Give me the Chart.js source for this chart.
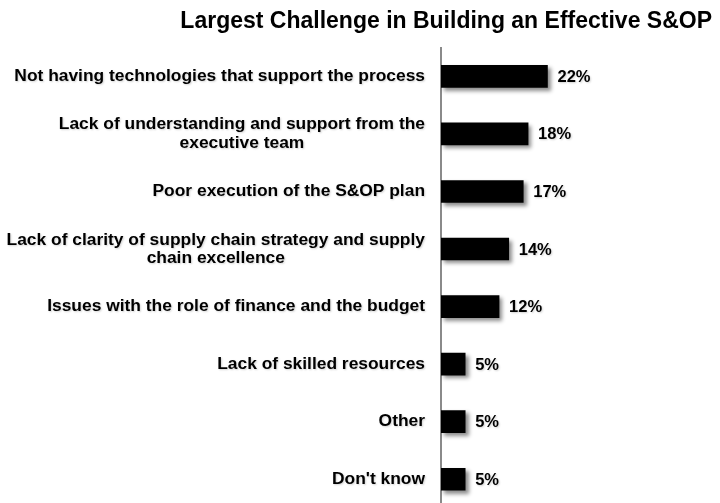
<!DOCTYPE html>
<html>
<head>
<meta charset="utf-8">
<script src="https://cdn.jsdelivr.net/npm/chart.js@4/dist/chart.umd.min.js"></script>
<style>
  html, body { margin: 0; padding: 0; background: #fff; overflow: hidden; }
  #wrap { width: 720px; height: 503px; overflow: hidden; }
  canvas { display: block; }
</style>
</head>
<body>
<div id="wrap"><canvas id="c" width="720" height="508"></canvas></div>
<script>
const chartTitle = 'Largest Challenge in Building an Effective S&OP';
const categories = [
  ['Not having technologies that support the process'],
  ['Lack of understanding and support from the', 'executive team'],
  ['Poor execution of the S&OP plan'],
  ['Lack of clarity of supply chain strategy and supply', 'chain excellence'],
  ['Issues with the role of finance and the budget'],
  ['Lack of skilled resources'],
  ['Other'],
  ["Don't know"]
];
const shares = [22, 18, 17, 14, 12, 5, 5, 5];

const FONT = '"Liberation Sans", Arial, sans-serif';

// soft drop shadow under the bars
const barShadow = {
  id: 'barShadow',
  beforeDatasetsDraw(chart) {
    const ctx = chart.ctx;
    ctx.save();
    ctx.shadowColor = 'rgba(0,0,0,0.45)';
    ctx.shadowBlur = 4;
    ctx.shadowOffsetX = 3;
    ctx.shadowOffsetY = 3;
  },
  afterDatasetsDraw(chart) {
    chart.ctx.restore();
  }
};

// category names to the left of the axis, blocks right-aligned, lines centred within a block
const categoryNames = {
  id: 'categoryNames',
  afterDraw(chart) {
    const ctx = chart.ctx;
    const y = chart.scales.y;
    const right = chart.chartArea.left - 16;
    const lineH = 18.5;
    ctx.save();
    ctx.font = 'bold 17.4px ' + FONT;
    ctx.fillStyle = '#000';
    ctx.textBaseline = 'middle';
    ctx.textAlign = 'center';
    ctx.shadowColor = 'rgba(0,0,0,0.18)';
    ctx.shadowBlur = 2;
    ctx.shadowOffsetX = 1;
    ctx.shadowOffsetY = 1;
    categories.forEach((lines, i) => {
      const cy = y.getPixelForValue(i);
      const w = Math.max(...lines.map(l => ctx.measureText(l).width));
      const cx = right - w / 2;
      const y0 = cy - (lines.length - 1) * lineH / 2;
      lines.forEach((l, k) => ctx.fillText(l, cx, y0 + k * lineH));
    });
    ctx.restore();
  }
};

// percentage after each bar
const valueTags = {
  id: 'valueTags',
  afterDatasetsDraw(chart) {
    const ctx = chart.ctx;
    const meta = chart.getDatasetMeta(0);
    ctx.save();
    ctx.font = 'bold 16.5px ' + FONT;
    ctx.fillStyle = '#000';
    ctx.textBaseline = 'middle';
    ctx.textAlign = 'left';
    ctx.shadowColor = 'rgba(0,0,0,0.18)';
    ctx.shadowBlur = 2;
    ctx.shadowOffsetX = 1;
    ctx.shadowOffsetY = 1;
    meta.data.forEach((bar, i) => {
      ctx.fillText(shares[i] + '%', bar.x + 10, bar.y + 1);
    });
    ctx.restore();
  }
};

new Chart(document.getElementById('c'), {
  type: 'bar',
  data: {
    labels: categories.map(l => l.join(' ')),
    datasets: [{
      data: shares,
      backgroundColor: '#000',
      borderWidth: 0,
      barThickness: 22
    }]
  },
  options: {
    indexAxis: 'y',
    responsive: false,
    animation: false,
    layout: { padding: { left: 0, right: 8, top: 0, bottom: 0 } },
    plugins: {
      legend: { display: false },
      tooltip: { enabled: false },
      title: {
        display: true,
        text: chartTitle,
        align: 'end',
        color: '#000',
        font: { family: FONT, size: 23, weight: 'bold' },
        padding: { top: 8, bottom: 12 }
      }
    },
    scales: {
      x: {
        display: false,
        min: 0,
        max: 56
      },
      y: {
        grid: { display: false },
        ticks: { display: false },
        border: { display: true, color: '#8a8a8a', width: 2 },
        afterFit(scale) { scale.width = 441; }
      }
    }
  },
  plugins: [barShadow, categoryNames, valueTags]
});
</script>
</body>
</html>
